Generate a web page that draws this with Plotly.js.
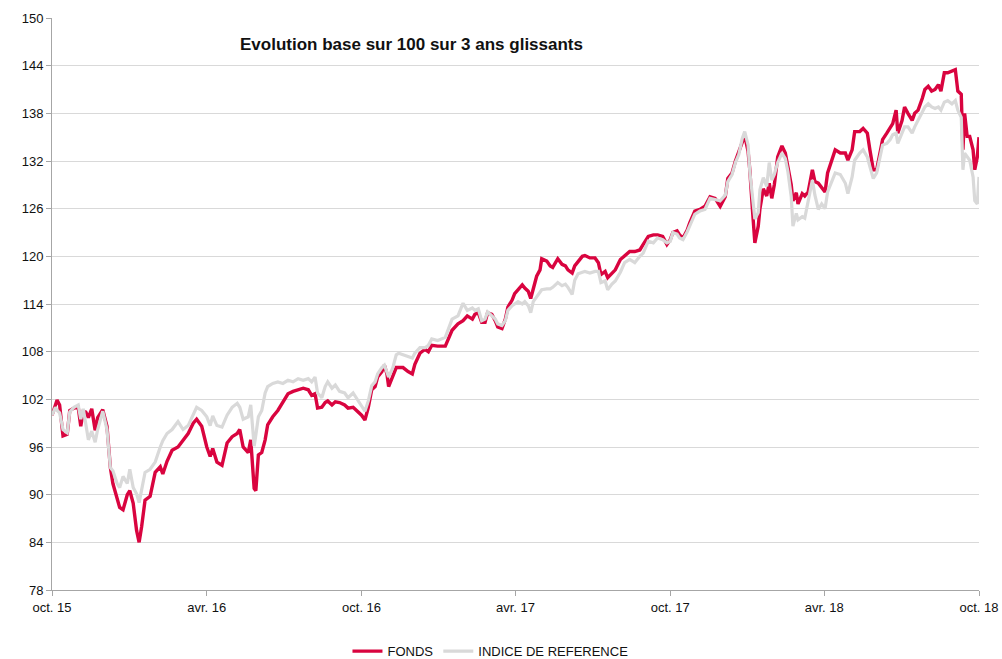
<!DOCTYPE html>
<html>
<head>
<meta charset="utf-8">
<script src="https://cdn.plot.ly/plotly-3.0.1.min.js"></script>
<style>html,body{margin:0;padding:0;background:#fff;}#chart{width:1002px;height:659px;}</style>
</head>
<body>
<div id="chart"></div>
<script>
const dates = ["2015-10-01","2015-10-05","2015-10-07","2015-10-10","2015-10-14","2015-10-19","2015-10-22","2015-10-27","2015-11-01","2015-11-04","2015-11-07","2015-11-10","2015-11-13","2015-11-17","2015-11-21","2015-11-24","2015-11-30","2015-12-05","2015-12-09","2015-12-12","2015-12-17","2015-12-20","2015-12-24","2015-12-29","2016-01-01","2016-01-05","2016-01-09","2016-01-12","2016-01-15","2016-01-19","2016-01-25","2016-01-31","2016-02-06","2016-02-09","2016-02-14","2016-02-20","2016-02-27","2016-03-04","2016-03-10","2016-03-16","2016-03-20","2016-03-26","2016-04-01","2016-04-05","2016-04-08","2016-04-13","2016-04-19","2016-04-25","2016-05-01","2016-05-07","2016-05-10","2016-05-14","2016-05-20","2016-05-23","2016-05-27","2016-05-29","2016-06-01","2016-06-05","2016-06-09","2016-06-12","2016-06-18","2016-06-24","2016-06-30","2016-07-06","2016-07-12","2016-07-18","2016-07-24","2016-07-30","2016-08-03","2016-08-07","2016-08-10","2016-08-15","2016-08-19","2016-08-22","2016-08-27","2016-08-31","2016-09-05","2016-09-11","2016-09-15","2016-09-21","2016-09-27","2016-10-01","2016-10-05","2016-10-09","2016-10-13","2016-10-17","2016-10-20","2016-10-25","2016-10-28","2016-10-31","2016-11-02","2016-11-07","2016-11-11","2016-11-14","2016-11-19","2016-11-25","2016-11-30","2016-12-03","2016-12-09","2016-12-15","2016-12-19","2016-12-23","2016-12-30","2017-01-08","2017-01-16","2017-01-23","2017-01-29","2017-02-03","2017-02-09","2017-02-12","2017-02-16","2017-02-20","2017-02-24","2017-02-27","2017-03-04","2017-03-08","2017-03-11","2017-03-16","2017-03-20","2017-03-23","2017-03-28","2017-03-31","2017-04-04","2017-04-09","2017-04-12","2017-04-16","2017-04-19","2017-04-22","2017-04-26","2017-04-30","2017-05-02","2017-05-08","2017-05-12","2017-05-15","2017-05-21","2017-05-26","2017-05-30","2017-06-02","2017-06-07","2017-06-10","2017-06-14","2017-06-19","2017-06-22","2017-06-28","2017-07-04","2017-07-08","2017-07-11","2017-07-16","2017-07-19","2017-07-24","2017-07-28","2017-08-03","2017-08-08","2017-08-14","2017-08-20","2017-08-26","2017-08-30","2017-09-05","2017-09-11","2017-09-16","2017-09-22","2017-09-27","2017-10-01","2017-10-04","2017-10-09","2017-10-12","2017-10-16","2017-10-21","2017-10-24","2017-10-30","2017-11-05","2017-11-11","2017-11-17","2017-11-23","2017-11-29","2017-12-05","2017-12-08","2017-12-13","2017-12-17","2017-12-21","2017-12-25","2017-12-28","2018-01-01","2018-01-03","2018-01-06","2018-01-09","2018-01-13","2018-01-15","2018-01-19","2018-01-23","2018-01-26","2018-01-29","2018-02-01","2018-02-05","2018-02-10","2018-02-14","2018-02-17","2018-02-21","2018-02-23","2018-02-27","2018-03-01","2018-03-06","2018-03-09","2018-03-13","2018-03-18","2018-03-21","2018-03-25","2018-03-29","2018-04-02","2018-04-05","2018-04-10","2018-04-14","2018-04-20","2018-04-26","2018-04-29","2018-05-04","2018-05-07","2018-05-13","2018-05-17","2018-05-22","2018-05-25","2018-05-29","2018-06-02","2018-06-06","2018-06-09","2018-06-14","2018-06-18","2018-06-21","2018-06-25","2018-06-27","2018-07-02","2018-07-05","2018-07-09","2018-07-14","2018-07-17","2018-07-21","2018-07-26","2018-07-29","2018-08-02","2018-08-06","2018-08-10","2018-08-14","2018-08-17","2018-08-21","2018-08-25","2018-08-30","2018-09-03","2018-09-06","2018-09-10","2018-09-12","2018-09-14","2018-09-17","2018-09-20","2018-09-24","2018-09-26","2018-09-29","2018-10-01"];

const fonds = [100.0,101.5,101.9,101.3,97.4,97.6,100.6,100.9,101.0,98.6,100.5,100.4,99.7,100.8,98.1,99.7,100.7,98.6,93.4,91.4,89.3,88.4,88.1,90.0,90.5,88.9,85.5,84.0,86.0,89.3,89.8,92.8,93.5,92.6,94.2,95.6,96.0,96.8,97.7,99.0,99.5,98.6,96.0,94.8,95.8,94.1,93.7,96.5,97.3,97.7,98.2,96.0,95.3,96.9,90.8,90.5,95.0,95.3,96.9,98.8,99.8,100.6,101.6,102.7,103.0,103.2,103.4,103.2,102.5,102.7,100.9,101.0,101.6,101.8,101.3,101.7,101.6,101.3,100.9,101.0,100.4,100.0,99.4,101.0,103.2,103.6,104.8,105.5,106.3,105.2,103.6,104.8,106.0,106.0,106.0,105.5,105.2,106.4,107.8,108.3,108.0,108.8,108.7,108.7,110.7,111.5,111.9,112.5,112.1,112.7,112.9,111.7,111.7,112.9,112.7,111.9,111.1,110.9,112.1,113.6,114.5,115.3,115.8,116.4,116.0,115.6,114.7,116.0,117.5,118.3,119.7,119.4,118.8,118.6,119.7,119.0,118.8,118.3,117.9,118.8,119.4,120.0,120.1,119.8,119.8,119.2,117.7,118.1,117.3,117.9,118.3,119.6,120.0,120.6,120.6,120.8,121.5,122.5,122.7,122.7,122.5,121.5,122.1,123.0,123.2,122.7,122.3,123.3,124.2,125.7,125.9,126.3,127.5,127.3,126.3,127.5,129.8,130.5,132.0,133.2,134.2,135.2,133.2,130.9,126.1,121.7,123.8,126.0,128.5,127.6,129.2,127.3,129.0,132.5,133.9,133.0,131.3,129.0,127.0,128.0,126.6,127.9,127.6,128.1,130.9,129.4,129.2,128.7,128.1,130.5,132.1,133.4,133.0,133.0,132.1,133.4,135.7,135.7,136.1,135.5,133.4,130.9,130.9,133.4,134.7,135.5,136.1,136.7,138.4,135.5,137.1,138.8,138.0,137.1,138.0,138.4,139.9,141.0,141.4,140.8,141.0,141.6,140.8,143.1,143.1,143.3,143.5,140.8,140.4,133.4,138.0,135.1,135.1,133.4,130.9,132.5,135.0];

const indice = [100.0,101.0,100.6,100.3,98.2,97.8,100.4,101.0,101.3,99.5,100.8,99.0,96.9,98.0,96.6,98.2,100.5,98.2,93.4,93.0,91.4,90.9,92.3,91.4,93.2,90.9,90.1,89.0,90.5,92.8,93.2,94.1,96.0,96.8,97.7,98.2,99.2,98.2,98.7,100.0,101.0,100.6,99.8,98.7,99.9,98.7,98.5,100.0,101.0,101.5,101.0,99.5,99.8,101.3,96.1,97.5,99.8,100.6,102.8,103.6,104.0,104.2,104.0,104.4,104.2,104.6,104.4,104.6,104.2,104.8,102.8,102.2,103.6,104.2,103.4,103.8,103.0,102.8,102.2,102.8,101.8,101.1,100.5,101.8,103.7,104.2,105.2,106.0,106.3,105.4,104.8,106.0,107.6,107.8,107.6,107.4,107.2,107.8,108.5,108.5,108.8,109.6,109.4,109.8,112.1,112.5,114.1,113.2,113.5,113.2,113.4,111.9,112.1,113.0,112.5,112.1,111.5,111.3,111.9,113.2,113.8,114.0,114.3,114.0,114.3,113.8,112.9,114.3,114.9,115.6,115.8,115.9,115.9,116.1,116.7,116.3,116.5,116.1,115.2,117.0,117.8,118.0,118.1,117.9,118.1,118.1,116.7,116.9,115.8,116.5,116.9,118.0,119.2,119.6,119.2,120.0,120.4,121.9,121.7,122.3,122.1,121.7,121.9,123.0,122.8,122.3,122.1,123.1,123.8,125.3,125.7,125.9,127.3,127.1,127.0,127.7,129.4,130.3,131.8,132.8,134.8,135.7,134.0,130.7,127.2,124.7,125.5,128.4,129.9,128.8,131.8,129.6,130.3,131.8,133.0,132.3,130.7,127.5,123.8,125.4,124.6,125.0,124.8,127.0,129.6,127.7,125.9,126.6,126.0,128.1,129.6,130.5,130.3,129.2,127.9,130.0,132.1,133.0,133.4,132.5,131.3,129.8,130.5,132.8,134.0,134.2,134.7,135.3,135.5,134.2,135.5,136.3,136.3,135.5,136.3,137.1,138.0,138.8,139.2,138.8,138.6,138.8,138.4,139.4,139.6,139.2,139.6,138.4,137.5,130.9,133.0,132.5,132.1,130.0,127.0,126.6,130.0];

const tickDates = ["2015-10-01","2016-04-01","2016-10-01","2017-04-01","2017-10-01","2018-04-01","2018-10-01"];
const tickLabels = ["oct. 15","avr. 16","oct. 16","avr. 17","oct. 17","avr. 18","oct. 18"];
const seriesNames = ["FONDS","INDICE DE REFERENCE"];
const chartTitle = "Evolution base sur 100 sur 3 ans glissants";

const FONT = "Liberation Sans, Arial, sans-serif";

const traces = [
  {x: dates, y: fonds, name: seriesNames[0], type: "scatter", mode: "lines",
   line: {color: "#D9043F", width: 3.4}},
  {x: dates, y: indice, name: seriesNames[1], type: "scatter", mode: "lines",
   line: {color: "#D9D9D9", width: 3.2}}
];

const layout = {
  width: 1002, height: 659,
  margin: {l: 52, r: 23, t: 18, b: 69, autoexpand: false},
  paper_bgcolor: "#fff", plot_bgcolor: "#fff",
  font: {family: FONT, size: 13, color: "#111"},
  showlegend: true,
  legend: {orientation: "h", x: 0.473, xanchor: "center", y: -0.107, yanchor: "middle",
           font: {family: FONT, size: 13, color: "#111"}, traceorder: "normal", itemwidth: 30},
  xaxis: {type: "date", range: ["2015-10-01", "2018-10-01"], tickvals: tickDates, ticktext: tickLabels,
          ticks: "outside", ticklen: 5, tickcolor: "#a6a6a6", showline: true, linecolor: "#a6a6a6",
          linewidth: 1, showgrid: false, zeroline: false, fixedrange: true, automargin: false,
          tickfont: {family: FONT, size: 13, color: "#111"}},
  yaxis: {range: [78, 150], tick0: 78, dtick: 6, ticks: "outside", ticklen: 5, tickcolor: "#a6a6a6",
          showline: true, linecolor: "#a6a6a6", linewidth: 1, gridcolor: "#d9d9d9", gridwidth: 1,
          zeroline: false, fixedrange: true, automargin: false,
          tickfont: {family: FONT, size: 13, color: "#111"}},
  annotations: [{text: "<b>" + chartTitle + "</b>", xref: "paper", yref: "paper",
                 x: 0.2006, y: 0.953, xanchor: "left", yanchor: "middle", showarrow: false,
                 font: {family: FONT, size: 17, color: "#111"}}]
};

Plotly.newPlot("chart", traces, layout, {displayModeBar: false, staticPlot: true});
</script>
</body>
</html>
